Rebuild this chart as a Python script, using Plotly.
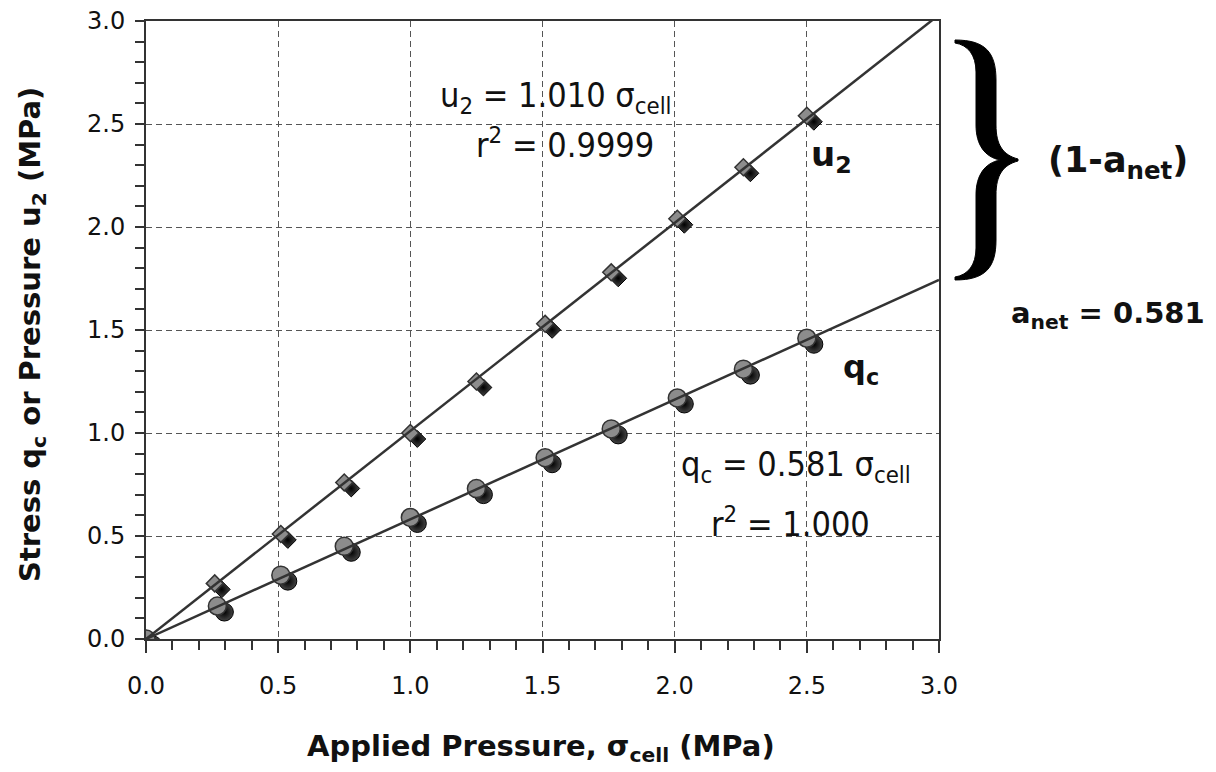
import plotly.graph_objects as go

# ---- data ----
sigma_u2 = [0.00, 0.26, 0.51, 0.75, 1.00, 1.25, 1.51, 1.76, 2.01, 2.26, 2.50]
u2_vals = [0.00, 0.27, 0.51, 0.76, 1.00, 1.25, 1.53, 1.78, 2.04, 2.29, 2.54]
sigma_qc = [0.00, 0.27, 0.51, 0.75, 1.00, 1.25, 1.51, 1.76, 2.01, 2.26, 2.50]
qc_vals = [0.00, 0.16, 0.31, 0.45, 0.59, 0.73, 0.88, 1.02, 1.17, 1.31, 1.46]
slope_u2 = 1.010
slope_qc = 0.581
fit_x = [0.0, 3.0]
tick_vals = [0.0, 0.5, 1.0, 1.5, 2.0, 2.5, 3.0]
tick_text = ["0.0", "0.5", "1.0", "1.5", "2.0", "2.5", "3.0"]

W, H = 1216, 772
OFF = 8                      # page body margin
X0, X1, Y1, Y0 = 146, 939, 21, 639   # plot box in screen pixels
PW, PH = X1 - X0, Y0 - Y1
ML, MT = X0 - OFF, Y1 - OFF
MR, MB = W - ML - PW, H - MT - PH
XR, YR = [0, 3], [0, 3]
# shadow offset (pixels -> data units)
dx = 7 * (XR[1] - XR[0]) / PW
dy = 6 * (YR[1] - YR[0]) / PH

fig = go.Figure()

def add_points(xs, ys, symbol, size):
    fig.add_trace(go.Scatter(
        x=[v + dx for v in xs], y=[v - dy for v in ys], mode="markers",
        marker=dict(symbol=symbol, size=size, color="#444444",
                    gradient=dict(type="radial", color="#000000"),
                    line=dict(color="#000000", width=1)),
        showlegend=False, hoverinfo="skip"))
    fig.add_trace(go.Scatter(
        x=xs, y=ys, mode="markers",
        marker=dict(symbol=symbol, size=size, color="#8c8c8c",
                    line=dict(color="#333333", width=1.5)),
        showlegend=False))

add_points(sigma_u2, u2_vals, "diamond", 13)
add_points(sigma_qc, qc_vals, "circle", 18)

# fit lines
fig.add_trace(go.Scatter(x=fit_x, y=[slope_u2 * v for v in fit_x], mode="lines",
                         line=dict(color="#333333", width=2.5), showlegend=False))
fig.add_trace(go.Scatter(x=fit_x, y=[slope_qc * v for v in fit_x], mode="lines",
                         line=dict(color="#333333", width=2.5), showlegend=False))

axis_common = dict(
    range=XR, tickmode="array", tickvals=tick_vals, ticktext=tick_text,
    showgrid=True, gridcolor="#555555", gridwidth=1, griddash="6px,4px",
    showline=True, linecolor="#333333", linewidth=2, mirror=True,
    ticks="outside", ticklen=12, tickwidth=2, tickcolor="#333333",
    minor=dict(dtick=0.1, ticks="outside", ticklen=9, tickwidth=1.5,
               tickcolor="#333333", showgrid=False),
    zeroline=False, automargin=False, ticklabeloverflow="allow",
    tickfont=dict(family="DejaVu Sans", size=24, color="#111111"),
)
fig.update_xaxes(**axis_common, ticklabelstandoff=12)
fig.update_yaxes(**{**axis_common, "range": YR, "ticklen": 9}, ticklabelstandoff=5)

narrow = "Liberation Sans Narrow, DejaVu Sans Condensed, sans-serif"
bold = "DejaVu Sans"
ann = [
    (1.55, 2.63, "u<sub>2</sub> = 1.010 σ<sub>cell</sub>", narrow, 34, "center"),
    (1.585, 2.41, "r<sup>2</sup> = 0.9999", narrow, 34, "center"),
    (2.51, 2.34, "<b>u<sub>2</sub></b>", bold, 34, "left"),
    (2.63, 1.31, "<b>q<sub>c</sub></b>", bold, 32, "left"),
    (2.46, 0.835, "q<sub>c</sub> = 0.581 σ<sub>cell</sub>", narrow, 34, "center"),
    (2.44, 0.57, "r<sup>2</sup> = 1.000", narrow, 34, "center"),
]
for x, y, t, fam, sz, anc in ann:
    fig.add_annotation(xref="x", yref="y", x=x, y=y, text=t, showarrow=False,
                       xanchor=anc, yanchor="middle",
                       font=dict(family=fam, size=sz, color="#111111"))

def px2paper(px, py):
    return (px - X0) / PW, (Y0 - py) / PH

# brace outline in screen-pixel coordinates (converted to paper coords)
brace_pts = [
    ("M", [(955, 40)]),
    ("C", [(985, 40), (996, 52), (996, 80)]),
    ("L", [(996, 125)]),
    ("C", [(996, 145), (1003, 155), (1018, 159)]),
    ("L", [(1018, 161)]),
    ("C", [(1003, 165), (996, 175), (996, 195)]),
    ("L", [(996, 240)]),
    ("C", [(996, 268), (985, 280), (955, 280)]),
    ("L", [(955, 277)]),
    ("C", [(968, 275), (976, 265), (976, 248)]),
    ("L", [(976, 195)]),
    ("C", [(976, 175), (985, 163), (1000, 160)]),
    ("C", [(985, 157), (976, 145), (976, 125)]),
    ("L", [(976, 72)]),
    ("C", [(976, 55), (968, 45), (955, 43)]),
]
path = ""
for cmd, pts in brace_pts:
    path += cmd + " " + " ".join("%.5f,%.5f" % px2paper(*p) for p in pts) + " "
path += "Z"
fig.add_shape(type="path", xref="paper", yref="paper", path=path,
              fillcolor="#000000", line=dict(color="#000000", width=1))

def paper_text(px, py, text, size, angle=0):
    x, y = px2paper(px, py)
    fig.add_annotation(xref="paper", yref="paper", x=x, y=y, text=text,
                       showarrow=False, xanchor="center", yanchor="middle",
                       textangle=angle,
                       font=dict(family=bold, size=size, color="#111111"))

paper_text(1118, 162, "<b>(1-a<sub>net</sub>)</b>", 35)
paper_text(1108, 315, "<b>a<sub>net</sub> = 0.581</b>", 29)
paper_text(541, 748, "<b>Applied Pressure, σ<sub>cell</sub> (MPa)</b>", 29)
paper_text(32, 335, "<b>Stress q<sub>c</sub> or Pressure u<sub>2</sub> (MPa)</b>", 29, angle=-90)

fig.update_layout(
    width=W, height=H, margin=dict(l=ML, r=MR, t=MT, b=MB),
    paper_bgcolor="white", plot_bgcolor="white", showlegend=False,
)

fig.write_html("out.html")
